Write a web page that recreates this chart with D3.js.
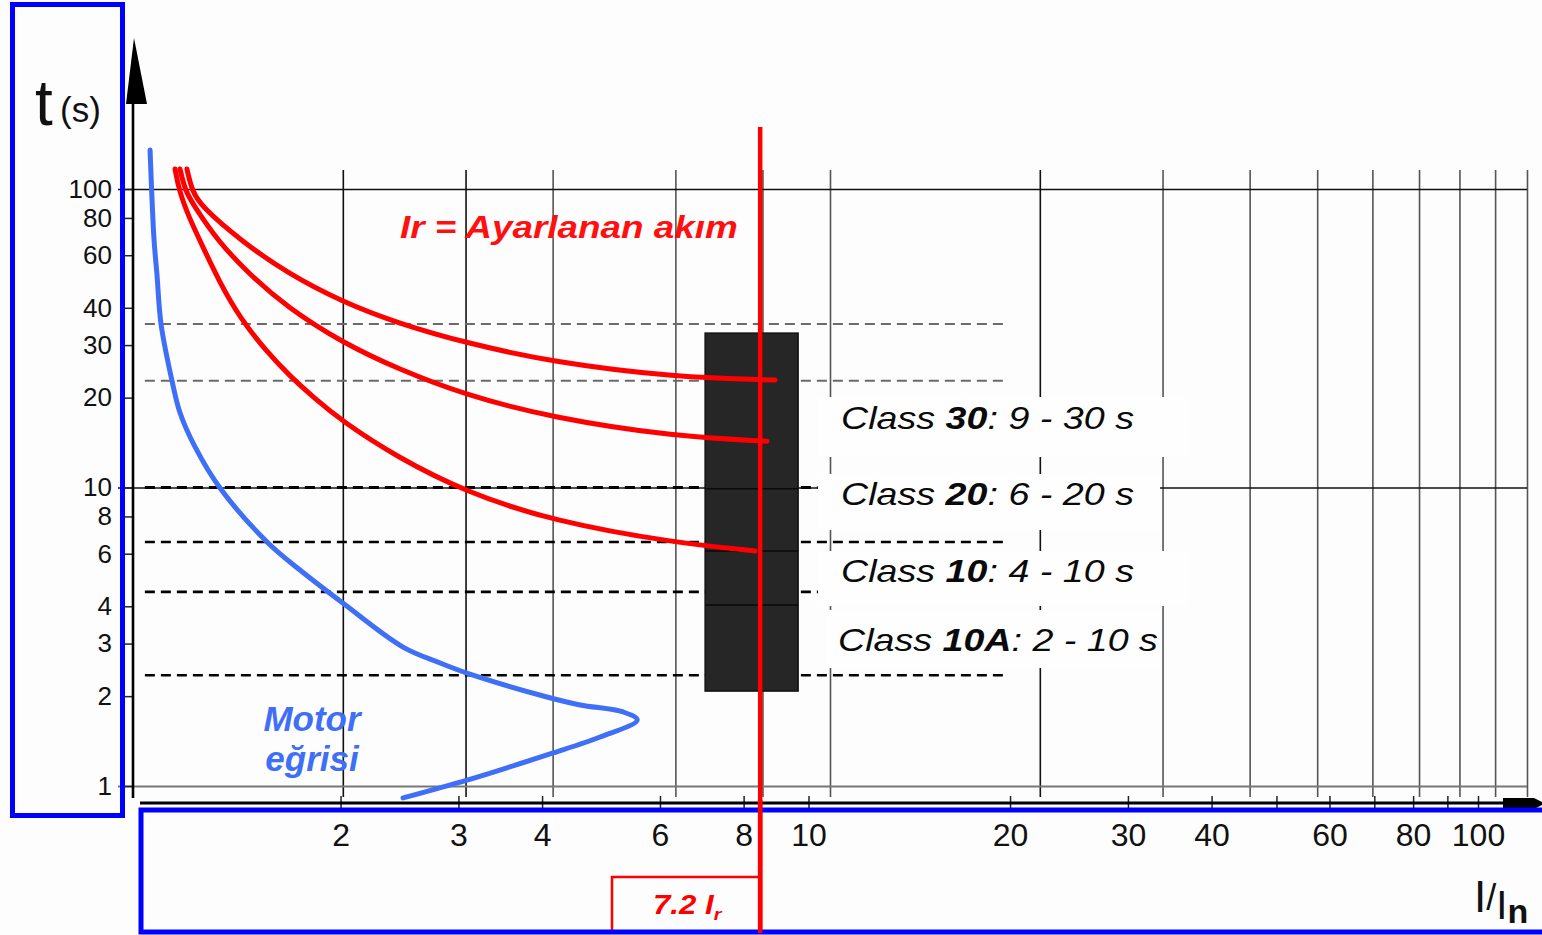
<!DOCTYPE html>
<html>
<head>
<meta charset="utf-8">
<script src="https://cdn.jsdelivr.net/npm/d3@7"></script>
<style>
  html, body { margin: 0; padding: 0; background: #fdfdfd; }
  svg { display: block; font-family: "Liberation Sans", Arial, sans-serif; }
</style>
</head>
<body>
<svg id="chart" width="1542" height="935"></svg>
<script>
// ---- data (I/In multiples, t in seconds) ----
const gridTicksI = [2, 3, 4, 6, 8, 10, 20, 30, 40, 50, 60, 70, 80, 90, 100];
const axisTicksI = [2, 3, 4, 6, 8, 10, 20, 30, 40, 50, 60, 70, 80, 90, 100];
const axisLabelsI = [2, 3, 4, 6, 8, 10, 20, 30, 40, 60, 80, 100];
const tickT = [1, 2, 3, 4, 6, 8, 10, 20, 30, 40, 60, 80, 100];
const gridT = [1, 10, 100];

// dashed reference levels (s)
const dashT = [35.3, 22.8, 10, 6.57, 4.47, 2.35];
const dashI = [1.04, 18];

// tripping curves [I/In, t]
const class30Curve = [[1.195, 116.7], [1.215, 98.5], [1.256, 87.0], [1.424, 67.5], [1.663, 52.3],
  [2.0, 41.8], [2.392, 35.6], [3.0, 30.5], [4.0, 26.3], [6.0, 23.4], [8.34, 22.9]];
const class20Curve = [[1.168, 116.7], [1.188, 98.5], [1.227, 87.0], [1.32, 67.5], [1.462, 52.3],
  [1.663, 40.2], [2.0, 30.5], [2.415, 24.8], [3.0, 20.4], [4.0, 17.1], [6.0, 14.8], [8.12, 14.3]];
const class10Curve = [[1.149, 116.7], [1.164, 99.2], [1.199, 81.8], [1.256, 64.9], [1.333, 48.4],
  [1.424, 37.0], [1.557, 28.4], [1.68, 23.6], [1.812, 20.1], [2.0, 16.6], [2.392, 12.65],
  [3.0, 9.66], [4.0, 7.72], [6.0, 6.52], [7.81, 6.13]];

// motor starting curve (path order, turns back at the locked-rotor peak)
const motorCurve = [[1.058, 135], [1.072, 67.5], [1.082, 52.3], [1.097, 35.3], [1.137, 22.9],
  [1.168, 17.8], [1.227, 13.7], [1.333, 9.96], [1.557, 6.57], [1.736, 5.29], [2.0, 4.10],
  [2.44, 2.92], [2.758, 2.583], [3.075, 2.35], [3.926, 1.987], [4.38, 1.868], [5.05, 1.77],
  [5.29, 1.664], [4.677, 1.459], [3.966, 1.28], [3.36, 1.131], [3.015, 1.047], [2.44, 0.912]];

// trip band
const bandI = [6.62, 9.0];
const bandT = [2.08, 32.9];
const bandDividersT = [9.9, 6.13, 4.04];

const setCurrentI = 7.94;
const setCurrentLabel = "7.2 I";

const classNames = ["30", "20", "10", "10A"];
const classRanges = ["9 - 30 s", "6 - 20 s", "4 - 10 s", "2 - 10 s"];

// ---- scales ----
const x = d3.scaleLog().domain([1, 100]).range([133, 1527]);      // chart grid
const xLab = d3.scaleLog().domain([1, 100]).range([139, 1478]);   // pasted bottom scale
const y = d3.scaleLog().domain([1, 100]).range([786, 189]);

const svg = d3.select("#chart");

svg.append("rect").attr("width", 1542).attr("height", 935).attr("fill", "#fdfdfd");

// vertical grid
const vGrid = svg.append("g")
  .attr("transform", "translate(0,797)")
  .call(d3.axisBottom(x).tickValues(gridTicksI).tickSize(-627).tickFormat(""));
vGrid.select(".domain").remove();
vGrid.selectAll(".tick line")
  .attr("stroke", d => (d === 2 || d === 3 || d === 20) ? "#111" : "#555")
  .attr("stroke-width", 1.6);

// horizontal grid (1, 10, 100)
const hGrid = svg.append("g")
  .attr("transform", "translate(118,0)")
  .call(d3.axisRight(y).tickValues(gridT).tickSize(1527 - 118).tickFormat(""));
hGrid.select(".domain").remove();
hGrid.selectAll(".tick line")
  .attr("stroke", d => d === 1 ? "#777" : "#111")
  .attr("stroke-width", d => d === 1 ? 2.2 : 1.6);

// dashed levels
svg.selectAll(".dash")
  .data(dashT)
  .enter()
  .append("line")
  .attr("class", "dash")
  .attr("x1", x(dashI[0]))
  .attr("x2", d => d === 10 ? x(9.6) : x(dashI[1]))
  .attr("y1", d => y(d))
  .attr("y2", d => y(d))
  .attr("stroke", (d, i) => i < 2 ? "#6a6a6a" : "#000")
  .attr("stroke-width", (d, i) => i < 2 ? 2 : (d === 10 ? 3 : 2.6))
  .attr("stroke-dasharray", "10,6");

// y axis
const yAx = svg.append("g")
  .attr("transform", "translate(133,0)")
  .call(d3.axisLeft(y).tickValues(tickT).tickSize(8).tickPadding(13).tickFormat(d => d));
yAx.select(".domain").remove();
yAx.selectAll(".tick line").attr("stroke", "#222").attr("stroke-width", 1.5);
yAx.selectAll(".tick text")
  .attr("font-family", "Liberation Sans, Arial, sans-serif")
  .attr("font-size", 26)
  .attr("fill", "#111");

svg.append("line")
  .attr("x1", 133).attr("x2", 133).attr("y1", 100).attr("y2", 798)
  .attr("stroke", "#000").attr("stroke-width", 2.6);
svg.append("polygon")
  .attr("points", "134,38 126,104 147,104")
  .attr("fill", "#000");

// bottom (label) axis
const xAx = svg.append("g")
  .attr("transform", "translate(0,803)")
  .call(d3.axisBottom(xLab).tickValues(axisTicksI).tickSize(9)
    .tickFormat(d => axisLabelsI.indexOf(d) >= 0 ? d : ""));
xAx.select(".domain").remove();
xAx.selectAll(".tick line").attr("y1", -7).attr("stroke", "#222").attr("stroke-width", 1.5);
xAx.selectAll(".tick text")
  .attr("y", 43).attr("dy", 0)
  .attr("font-family", "Liberation Sans, Arial, sans-serif")
  .attr("font-size", 32)
  .attr("fill", "#111");

svg.append("line")
  .attr("x1", 140).attr("x2", 1506).attr("y1", 803).attr("y2", 803)
  .attr("stroke", "#000").attr("stroke-width", 3);
svg.append("polygon")
  .attr("points", "1503,798 1534,798 1545,803.5 1534,809 1503,809")
  .attr("fill", "#000");

// motor curve
const motorLine = d3.line()
  .x(d => x(d[0]))
  .y(d => y(d[1]))
  .curve(d3.curveCatmullRom.alpha(0.5));

svg.append("path")
  .datum(motorCurve)
  .attr("d", motorLine)
  .attr("fill", "none")
  .attr("stroke", "#3f6ff6")
  .attr("stroke-width", 5)
  .attr("stroke-linecap", "round")
  .attr("stroke-linejoin", "round");

// trip band
svg.append("rect")
  .attr("x", x(bandI[0]))
  .attr("y", y(bandT[1]))
  .attr("width", x(bandI[1]) - x(bandI[0]))
  .attr("height", y(bandT[0]) - y(bandT[1]))
  .attr("fill", "#262626")
  .attr("stroke", "#111")
  .attr("stroke-width", 1.5);
svg.selectAll(".divider")
  .data(bandDividersT)
  .enter()
  .append("line")
  .attr("class", "divider")
  .attr("x1", x(bandI[0])).attr("x2", x(bandI[1]))
  .attr("y1", d => y(d)).attr("y2", d => y(d))
  .attr("stroke", "#0a0a0a").attr("stroke-width", 1.6);

// class labels on white patches
const fitText = function (sel, x0, y0, w) {
  sel.attr("x", 0).attr("y", 0);
  const bw = sel.node().getBBox().width;
  sel.attr("transform", "translate(" + x0 + "," + y0 + ") scale(" + (w / bw) + ",1)");
};

const patches = [[818, 397, 369, 60], [818, 474, 342, 56], [818, 551, 369, 55], [826, 610, 334, 58]];
const labelBase = [429, 505, 582, 651];
const labelX = [841, 841, 841, 838];
const labelW = [293, 293, 293, 320];

classNames.forEach((name, i) => {
  const p = patches[i];
  svg.append("rect")
    .attr("x", p[0]).attr("y", p[1]).attr("width", p[2]).attr("height", p[3])
    .attr("fill", "#fefefe");
  const t = svg.append("text")
    .attr("font-size", 32)
    .attr("font-style", "italic")
    .attr("fill", "#0a0a0a");
  t.append("tspan").text("Class ");
  t.append("tspan").attr("font-weight", "bold").text(name);
  t.append("tspan").text(": " + classRanges[i]);
  fitText(t, labelX[i], labelBase[i], labelW[i]);
});

// tripping curves
const tripLine = d3.line()
  .x(d => x(d[0]))
  .y(d => y(d[1]))
  .curve(d3.curveBasis);

[class30Curve, class20Curve, class10Curve].forEach(c => {
  svg.append("path")
    .datum(c)
    .attr("d", tripLine)
    .attr("fill", "none")
    .attr("stroke", "#ff0000")
    .attr("stroke-width", 5)
    .attr("stroke-linecap", "round");
});

// set current line and label box
svg.append("line")
  .attr("x1", x(setCurrentI)).attr("x2", x(setCurrentI))
  .attr("y1", 127).attr("y2", 933)
  .attr("stroke", "#ff0000").attr("stroke-width", 4.5);

svg.append("rect")
  .attr("x", 612).attr("y", 877)
  .attr("width", x(setCurrentI) - 612).attr("height", 55)
  .attr("fill", "none").attr("stroke", "#ff0000").attr("stroke-width", 2.5);

const irLab = svg.append("text")
  .attr("font-size", 27).attr("font-weight", "bold").attr("font-style", "italic")
  .attr("fill", "#ff0000");
irLab.append("tspan").text(setCurrentLabel);
irLab.append("tspan").attr("font-size", 17).attr("dy", 6).text("r");
fitText(irLab, 653, 914, 70);

// title annotation
const title = svg.append("text")
  .attr("font-size", 31).attr("font-weight", "bold").attr("font-style", "italic")
  .attr("fill", "#ff1010")
  .text("Ir = Ayarlanan akım");
fitText(title, 400, 238, 338);

// motor label
svg.append("text")
  .attr("x", 312).attr("y", 731)
  .attr("text-anchor", "middle")
  .attr("font-size", 35).attr("font-weight", "bold").attr("font-style", "italic")
  .attr("fill", "#3f6ff6")
  .text("Motor");
svg.append("text")
  .attr("x", 312).attr("y", 771)
  .attr("text-anchor", "middle")
  .attr("font-size", 35).attr("font-weight", "bold").attr("font-style", "italic")
  .attr("fill", "#3f6ff6")
  .text("eğrisi");

// axis titles
svg.append("text")
  .attr("x", 35).attr("y", 125)
  .attr("font-size", 64)
  .attr("fill", "#111")
  .text("t");
svg.append("text")
  .attr("x", 60).attr("y", 122)
  .attr("font-size", 35)
  .attr("fill", "#111")
  .text("(s)");

const iTitle = svg.append("text")
  .attr("x", 1474).attr("y", 912)
  .attr("fill", "#111");
iTitle.append("tspan").attr("font-size", 44).text("I");
iTitle.append("tspan").attr("font-size", 36).attr("dy", -2).text("/");
iTitle.append("tspan").attr("font-size", 40).attr("dy", 9).text("I");
iTitle.append("tspan").attr("font-size", 34).attr("font-weight", "bold").attr("dy", 4).text("n");

// blue frames
svg.append("rect")
  .attr("x", 12.5).attr("y", 4.5).attr("width", 110).attr("height", 811)
  .attr("fill", "none").attr("stroke", "#0000ff").attr("stroke-width", 5);
svg.append("rect")
  .attr("x", 141).attr("y", 810).attr("width", 1420).attr("height", 122)
  .attr("fill", "none").attr("stroke", "#0000ff").attr("stroke-width", 5);

// keep set-current line above the frame
svg.append("line")
  .attr("x1", x(setCurrentI)).attr("x2", x(setCurrentI))
  .attr("y1", 800).attr("y2", 933)
  .attr("stroke", "#ff0000").attr("stroke-width", 4.5);
</script>
</body>
</html>
